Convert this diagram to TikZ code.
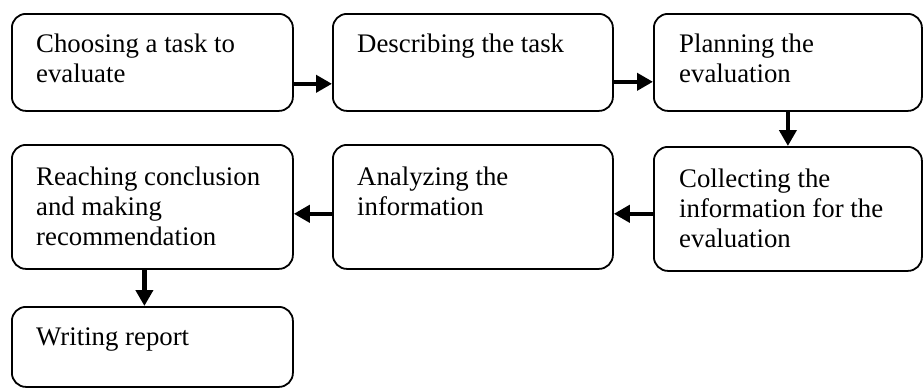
\documentclass[tikz,border=0pt]{standalone}
\usepackage{fontspec}
\setmainfont{Liberation Serif}
\usetikzlibrary{arrows.meta,calc}
\begin{document}
\begin{tikzpicture}[x=1pt,y=-1pt,
  box/.style={draw=black,line width=1.8pt,rounded corners=14pt,anchor=north west,inner sep=0pt},
  txt/.style={anchor=north west,inner sep=0pt,align=left,font=\fontsize{26.8pt}{30pt}\selectfont},
  flow/.style={line width=4.5pt,-{Triangle[length=16pt,width=17pt]}}]
\useasboundingbox (0,0) rectangle (923,388);
% row 1
\node[box,minimum width=281pt,minimum height=97pt] (b1) at (11,13) {};
\node[box,minimum width=280pt,minimum height=97pt] (b2) at (332,13) {};
\node[box,minimum width=268pt,minimum height=97pt] (b3) at (653,13) {};
% row 2
\node[box,minimum width=281pt,minimum height=124pt] (b4) at (11,144) {};
\node[box,minimum width=280pt,minimum height=124pt] (b5) at (332,144) {};
\node[box,minimum width=268pt,minimum height=124pt] (b6) at (653,146) {};
% row 3
\node[box,minimum width=281pt,minimum height=80pt] (b7) at (11,306) {};
% texts
\node[txt] (t1) at ($(b1.north west)+(25,18)$) {\strut Choosing a task to\\evaluate};
\node[txt] (t2) at ($(b2.north west)+(25,18)$) {\strut Describing the task};
\node[txt] (t3) at ($(b3.north west)+(26,18)$) {\strut Planning the\\evaluation};
\node[txt] (t4) at ($(b4.north west)+(25,20)$) {\strut Reaching conclusion\\and making\\recommendation};
\node[txt] (t5) at ($(b5.north west)+(25,20)$) {\strut Analyzing the\\information};
\node[txt] (t6) at ($(b6.north west)+(26,20)$) {\strut Collecting the\\information for the\\evaluation};
\node[txt] (t7) at ($(b7.north west)+(25,18)$) {\strut Writing report};
% connectors
\draw[flow] ($(b1.south east)+(0,-28)$) -- ($(b2.south west)+(0,-28)$);
\draw[flow] ($(b2.south east)+(0,-30)$) -- ($(b3.south west)+(0,-30)$);
\draw[flow] (b3.south) -- (b6.north);
\draw[flow] ($(b6.south west)+(0,-58)$) -- ($(b5.south east)+(0,-56)$);
\draw[flow] ($(b5.south west)+(0,-56)$) -- ($(b4.south east)+(0,-56)$);
\draw[flow] ($(b4.south)+(-8,0)$) -- ($(b7.north)+(-8,0)$);
\end{tikzpicture}
\end{document}
